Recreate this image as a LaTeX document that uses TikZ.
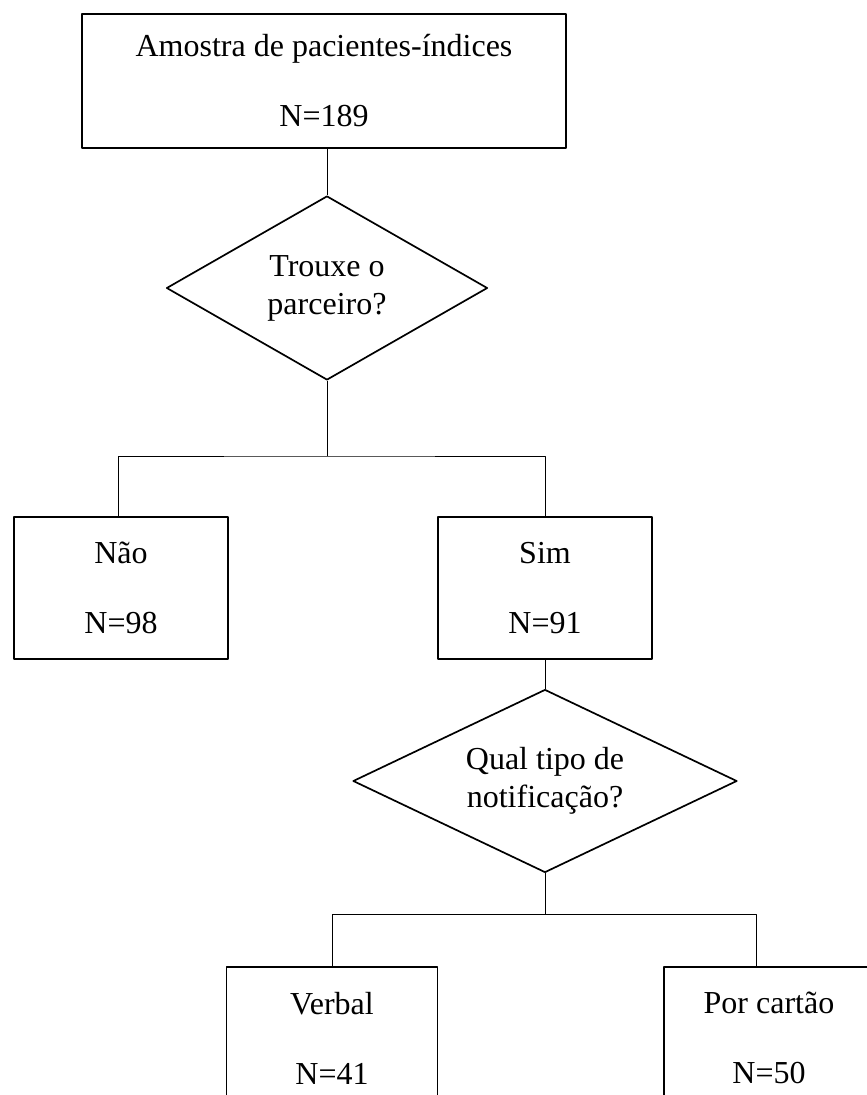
\documentclass[tikz,border=0pt]{standalone}
\usepackage{fontspec}
\setmainfont{Liberation Serif}
\usetikzlibrary{shapes.geometric}
\begin{document}
\begin{tikzpicture}[x=1pt,y=-1pt,line join=round,
  caixa/.style={draw,line width=1.7pt,inner sep=0pt,align=center,
    font=\fontsize{32}{70}\selectfont,minimum width=212pt,minimum height=142pt},
  losango/.style={draw,diamond,line width=1.7pt,inner sep=0pt,align=center,
    font=\fontsize{32}{38}\selectfont},
  liga/.style={line width=1pt}]
\useasboundingbox (0,0) rectangle (867,1095);
\clip (0,0) rectangle (867,1095);
\node[caixa,minimum width=484pt,minimum height=134pt] (amostra) at (324,81) {Amostra de pacientes-índices\\N=189};
\node[losango,aspect=1.74,minimum width=321pt,minimum height=184pt] (trouxe) at (327,288) {Trouxe o\\parceiro?};
\node[caixa,minimum width=214pt] (nao) at (121,588) {Não\\N=98};
\node[caixa,minimum width=214pt] (sim) at (545,588) {Sim\\N=91};
\node[losango,aspect=2.1,minimum width=384pt,minimum height=183pt] (qual) at (545,781) {Qual tipo de\\notificação?};
\node[caixa,minimum width=211pt] (verbal) at (332,1038) {Verbal\\N=41};
\node[caixa,minimum width=210pt] (cartao) at (769,1038) {Por cartão\\N=50};
\coordinate (ramo1) at (327,456);
\coordinate (ramo2) at (545,914);
\draw[liga] (trouxe.north) -- (trouxe.north |- amostra.south);
\draw[liga] (trouxe.south) -- (ramo1);
\draw[liga] ([xshift=-3pt]nao.north) |- (ramo1) -| (sim.north);
\draw[liga] (sim.south) -- (qual.north);
\draw[liga] (qual.south) -- (ramo2);
\draw[liga] (verbal.north) |- (ramo2) -| ([xshift=-13pt]cartao.north);
\end{tikzpicture}
\end{document}
